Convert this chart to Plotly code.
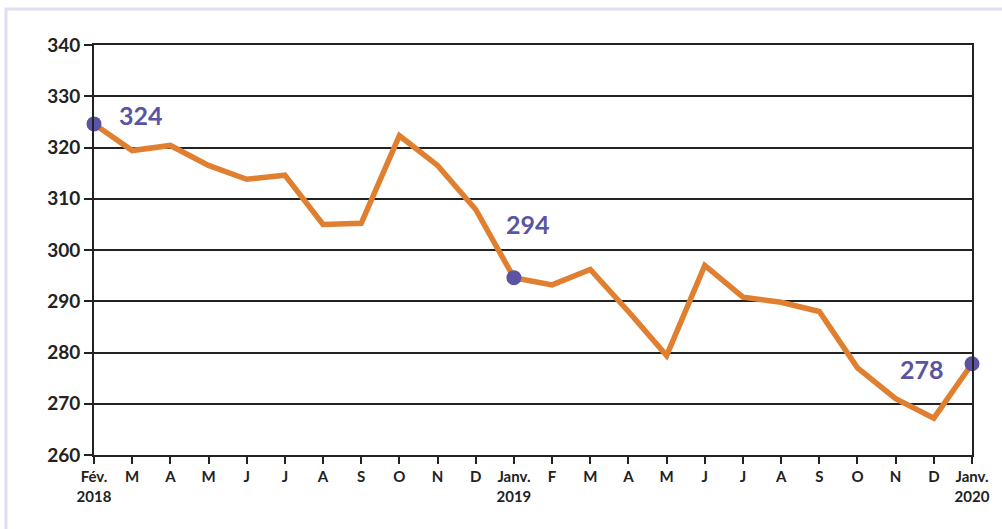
import plotly.graph_objects as go

months = ["Fév.<br>2018", "M", "A", "M", "J", "J", "A", "S", "O", "N", "D",
          "Janv.<br>2019", "F", "M", "A", "M", "J", "J", "A", "S", "O", "N", "D",
          "Janv.<br>2020"]
values = [324.6, 319.4, 320.4, 316.5, 313.8, 314.6, 305.0, 305.2, 322.3, 316.5, 307.9,
          294.6, 293.2, 296.2, 288.0, 279.4, 297.0, 290.8, 289.8, 288.0, 277.0, 271.0, 267.2,
          277.8]
highlight_idx = [0, 11, 23]
highlight_labels = ["324", "294", "278"]
y_ticks = [260, 270, 280, 290, 300, 310, 320, 330, 340]

x = list(range(len(months)))
orange = "#e07f2f"
purple = "#5a54a3"
dark = "#222222"
font_family = "Lato, 'Open Sans', sans-serif"

fig = go.Figure()
fig.add_trace(go.Scatter(
    x=x, y=values, mode="lines",
    line=dict(color=orange, width=5.5),
    cliponaxis=False, hoverinfo="skip", showlegend=False,
))
fig.add_trace(go.Scatter(
    x=[x[i] for i in highlight_idx], y=[values[i] for i in highlight_idx],
    mode="markers", marker=dict(color=purple, size=15),
    cliponaxis=False, hoverinfo="skip", showlegend=False,
))

label_pos = [(1.23, 326.3), (11.37, 305.1), (21.7, 276.8)]
for (lx, ly), txt in zip(label_pos, highlight_labels):
    fig.add_annotation(x=lx, y=ly, text=txt, showarrow=False,
                       font=dict(family=font_family, size=25, color=purple, weight="bold"))

# outer decorative frame (top and left visible)
frame = "#e0dff0"
def px_to_paper_x(px):
    return (px - 94) / 878
def px_to_paper_y(py):
    return (455 - py) / 410
fig.add_shape(type="line", xref="paper", yref="paper",
              x0=px_to_paper_x(5), x1=px_to_paper_x(1010), y0=px_to_paper_y(9), y1=px_to_paper_y(9),
              line=dict(color=frame, width=3), layer="below")
fig.add_shape(type="line", xref="paper", yref="paper",
              x0=px_to_paper_x(6), x1=px_to_paper_x(6), y0=px_to_paper_y(8), y1=px_to_paper_y(540),
              line=dict(color=frame, width=3), layer="below")

fig.update_layout(
    width=1002, height=529,
    margin=dict(l=94, r=30, t=45, b=74, pad=0),
    paper_bgcolor="white", plot_bgcolor="white",
    font=dict(family=font_family, color=dark),
)
fig.update_xaxes(
    range=[0, 23], tickmode="array", tickvals=x, ticktext=months,
    showgrid=False, zeroline=False,
    showline=True, linecolor=dark, linewidth=2, mirror=True,
    ticks="outside", ticklen=7, tickcolor=dark, tickwidth=2,
    tickfont=dict(family=font_family, size=15, color=dark, weight="bold"),
)
fig.update_yaxes(
    range=[260, 340], tickmode="array", tickvals=y_ticks,
    showgrid=True, gridcolor=dark, gridwidth=2, zeroline=False,
    showline=True, linecolor=dark, linewidth=2, mirror=True,
    ticks="outside", ticklen=8, tickcolor=dark, tickwidth=2,
    tickfont=dict(family=font_family, size=19, color=dark, weight="bold"),
)

fig.write_html("out.html", config={"displayModeBar": False},
               post_script="document.body.style.margin='0';document.body.style.overflow='hidden';")
